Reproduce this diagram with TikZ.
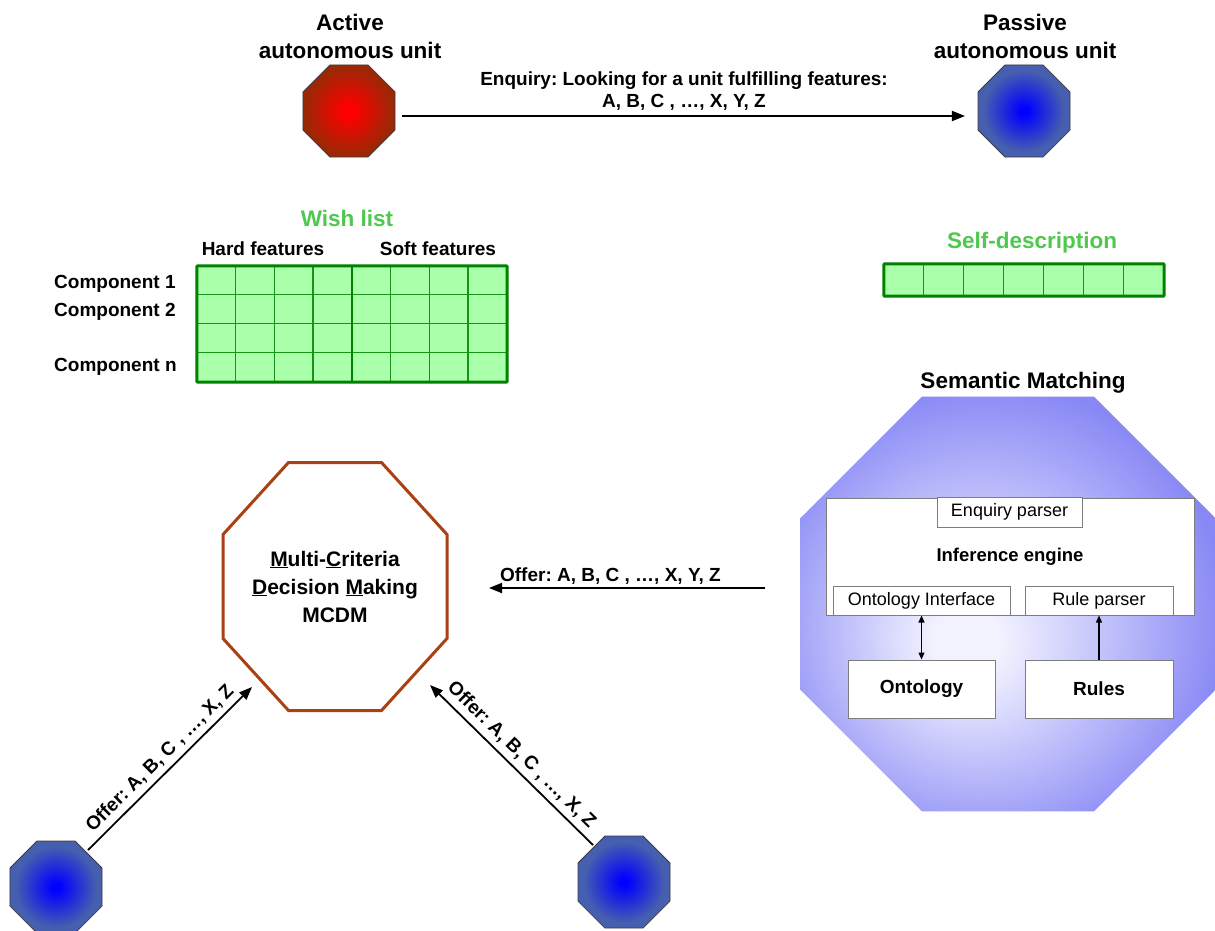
\documentclass[tikz,border=0pt]{standalone}
\usepackage{fontspec}
\setmainfont{Liberation Sans}
\usetikzlibrary{shapes.geometric, arrows.meta, calc}
\frenchspacing

% colours
\definecolor{wishgreen}{RGB}{80,200,80}
\definecolor{cellfill}{RGB}{170,255,170}
\definecolor{cellline}{RGB}{20,150,20}
\definecolor{cellframe}{RGB}{0,130,0}
\definecolor{mcdmbrown}{RGB}{170,65,20}
\definecolor{octline}{RGB}{60,60,70}
\definecolor{boxline}{RGB}{125,125,125}
\definecolor{redcore}{RGB}{255,0,0}
\definecolor{redrim}{RGB}{155,40,5}
\definecolor{bluecore}{RGB}{0,0,255}
\definecolor{bluerim}{RGB}{70,95,175}
\definecolor{semcore}{RGB}{242,242,255}
\definecolor{semmid}{RGB}{200,200,252}
\definecolor{semrim}{RGB}{135,135,245}

% shadings of the octagonal units (the path's bounding box spans +-25bp)
\pgfdeclareradialshading{redunit}{\pgfpoint{0bp}{0bp}}{color(0bp)=(redcore); color(3bp)=(redcore); color(24bp)=(redrim); color(50bp)=(redrim)}
\pgfdeclareradialshading{blueunit}{\pgfpoint{0bp}{0bp}}{color(0bp)=(bluecore); color(2bp)=(bluecore); color(22bp)=(bluerim); color(50bp)=(bluerim)}
\pgfdeclareradialshading{semunit}{\pgfpoint{-5.5bp}{-5bp}}{color(0bp)=(semcore); color(4bp)=(semcore); color(14bp)=(semmid); color(29bp)=(semrim); color(50bp)=(semrim)}

\tikzset{
  unit/.style={regular polygon, regular polygon sides=8, minimum size=99.6pt,
    inner sep=0pt, outer sep=0pt, draw=octline, line width=0.8pt},
  redunitst/.style={unit, shading=redunit, shade},
  blueunitst/.style={unit, shading=blueunit, shade},
  heading/.style={font=\fontsize{22.5}{28}\selectfont\bfseries, align=center, inner sep=0pt},
  greenhead/.style={heading, text=wishgreen},
  lbl/.style={font=\fontsize{19}{22}\selectfont\bfseries, inner sep=0pt, align=center},
  rowlbl/.style={font=\fontsize{19}{22}\selectfont\bfseries, inner sep=0pt, anchor=west},
  flow/.style={line width=1.8pt, -{Triangle[length=13pt,width=10pt]}},
  plainbox/.style={draw=boxline, fill=white, line width=1pt, inner sep=0pt,
    font=\fontsize{18}{20}\selectfont\mdseries},
  strongbox/.style={plainbox, font=\fontsize{19}{22}\selectfont\bfseries},
  linkarr/.style={line width=1.2pt, -{Triangle[length=7pt,width=6pt]}},
  gridthin/.style={draw=cellline, line width=1.3pt},
  gridframe/.style={draw=cellframe, line width=3pt, rounded corners=1pt},
}

\begin{document}
\begin{tikzpicture}[x=1pt, y=-1pt, font=\bfseries]
\useasboundingbox[fill=white] (0,0) rectangle (1215,931);

% enquiring and enquired units
\node[redunitst] (act) at (349,111) {};
\node[blueunitst] (pas) at (1024,111) {};
\node[heading] (acttitle) at (350,36) {Active\\autonomous unit};
\node[heading] (pastitle) at (1025,36) {Passive\\autonomous unit};
\node[lbl] (enq) at (684,91) {Enquiry: Looking for a unit fulfilling features:\\A, B, C , …, X, Y, Z};
\draw[flow] ([xshift=7pt,yshift=-5pt]act.east) -- ([xshift=-13pt,yshift=-5pt]pas.west);

% wish list table
\node[greenhead] (wishtitle) at (347,218) {Wish list};
\node[lbl] (hardf) at (263,249) {Hard features};
\node[lbl] (softf) at (438,249) {Soft features};
\node[rowlbl] (comp1) at (54,284) {Component 1};
\node[rowlbl] (comp2) at (54,312) {Component 2};
\node[rowlbl] (compn) at (54,367) {Component n};
\node[fill=cellfill, minimum width=310pt, minimum height=116pt, inner sep=0pt] (wish) at (352,324) {};
\foreach \i in {1,2,3,5,6,7}
  \draw[gridthin] ($(wish.north west)+(\i*38.75,0)$) -- ($(wish.south west)+(\i*38.75,0)$);
\foreach \j in {1,2,3}
  \draw[gridthin] ($(wish.north west)+(0,\j*29)$) -- ($(wish.north east)+(0,\j*29)$);
\draw[draw=cellframe, line width=2.6pt] (wish.north) -- (wish.south);
\draw[gridframe] (wish.north west) rectangle (wish.south east);

% self-description vector
\node[greenhead] (selftitle) at (1032,243) {Self-description};
\node[fill=cellfill, minimum width=280pt, minimum height=32pt, inner sep=0pt] (selfd) at (1024,280) {};
\foreach \i in {1,...,6}
  \draw[gridthin] ($(selfd.north west)+(\i*40,0)$) -- ($(selfd.south west)+(\i*40,0)$);
\draw[gridframe] (selfd.north west) rectangle (selfd.south east);

% semantic matching unit
\node[heading] (semtitle) at (1023,383) {Semantic Matching};
\node[unit, draw=none, minimum size=449pt, shading=semunit, shade] (sem) at (1008,604) {};
\node[plainbox, minimum width=368pt, minimum height=117pt, font=\fontsize{18.5}{20}\selectfont\bfseries] (inf) at (1010,556.5) {Inference engine};
\node[plainbox, minimum width=145pt, minimum height=30pt] (enqp) at (1009.5,512) {Enquiry parser};
\node[plainbox, minimum width=177pt, minimum height=29pt] (ontif) at (921.5,600.5) {Ontology Interface};
\node[plainbox, minimum width=148pt, minimum height=29pt] (rulep) at (1099,600.5) {Rule parser};
\node[strongbox, minimum width=147pt, minimum height=58pt] (ont) at (921.5,689) {Ontology};
\node[strongbox, minimum width=148pt, minimum height=58pt] (rules) at (1099,689) {Rules};
\draw[linkarr, {Triangle[length=7pt,width=6pt]}-{Triangle[length=7pt,width=6pt]}] (ont.north) -- (ont.north |- ontif.south);
\draw[linkarr] (rules.north) -- (rules.north |- rulep.south);

% decision making unit
\coordinate (mc) at (335,586.5);
\node[font=\fontsize{21}{28}\selectfont\bfseries, align=center, inner sep=0pt] (mcdm) at (mc)
  {\underline{M}ulti-\underline{C}riteria\\\underline{D}ecision \underline{M}aking\\MCDM};
\draw[draw=mcdmbrown, line width=3pt, line join=miter]
  ($(mc)+(-46.5,-124)$) -- ($(mc)+(46.5,-124)$) -- ($(mc)+(112,-52)$) -- ($(mc)+(112,52)$)
  -- ($(mc)+(46.5,124)$) -- ($(mc)+(-46.5,124)$) -- ($(mc)+(-112,52)$) -- ($(mc)+(-112,-52)$) -- cycle;

% offering units
\node[blueunitst] (bl) at (56,887) {};
\node[blueunitst] (br) at (624,882) {};

% offers
\coordinate (offS) at (765,588);
\coordinate (offE) at (489,588);
\draw[flow] (offS) -- node[lbl, pos=0.56, above=3pt] (offlbl) {Offer: A, B, C , …, X, Y, Z} (offE);

\coordinate (blS) at (88,850);
\coordinate (blE) at (252,687);
\draw[flow] (blS) -- node[lbl, midway, sloped, above=5pt] (bllbl) {Offer: A, B, C , …, X, Z} (blE);

\coordinate (brS) at (593,845);
\coordinate (brE) at (430,685);
\draw[flow] (brS) -- node[lbl, midway, sloped, above=5pt] (brlbl) {Offer: A, B, C , …, X, Z} (brE);
\end{tikzpicture}
\end{document}
